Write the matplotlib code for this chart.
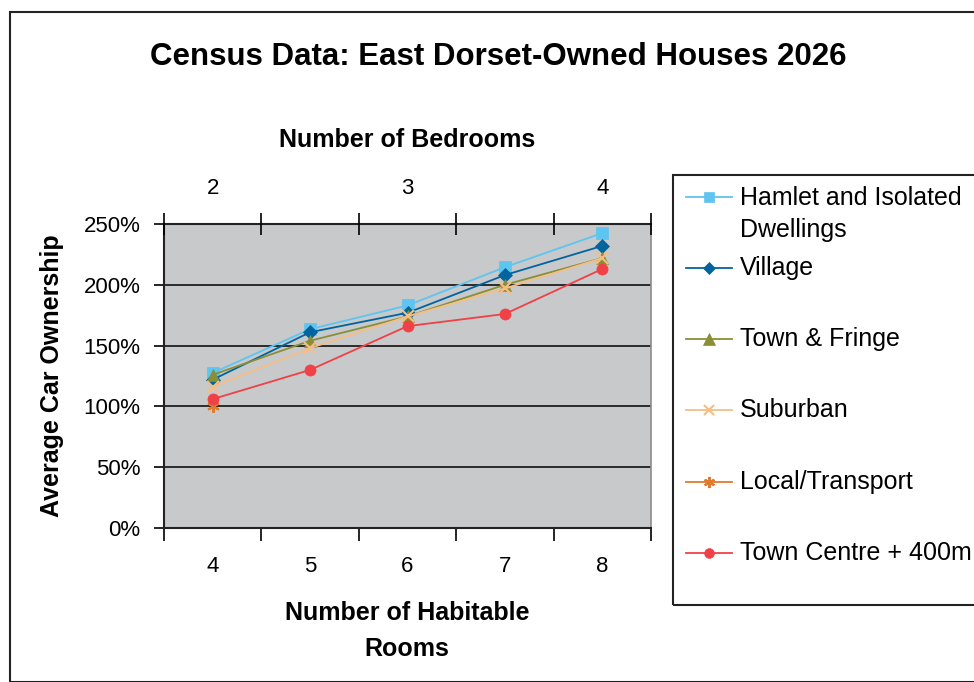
import matplotlib
matplotlib.use("Agg")
import matplotlib.pyplot as plt
import numpy as np
from matplotlib.lines import Line2D
from matplotlib.patches import Rectangle

plt.rcParams['font.family'] = ['Liberation Sans', 'DejaVu Sans']

rooms = ['4', '5', '6', '7', '8']
bedrooms = ['2', '3', '4']

hamlet = [127.5, 163.5, 183, 214.5, 242.5]
village = [122, 161, 177, 208, 232]
town_fringe = [126, 154, 174, 200, 222]
suburban = [116, 148, 174, 197, 222]
local_transport = [100, np.nan, np.nan, np.nan, np.nan]
town_centre = [106, 130, 166, 176, 213]

series = [
    ('Hamlet and Isolated\nDwellings', hamlet, '#5EC4F0', 's', 8),
    ('Village', village, '#00649F', 'D', 7),
    ('Town & Fringe', town_fringe, '#8A8F35', '^', 9),
    ('Suburban', suburban, '#F6BE84', 'x', 8),
    ('Local/Transport', local_transport, '#E27A2E', (6, 2, 0), 9),
    ('Town Centre + 400m', town_centre, '#EF4146', 'o', 8),
]

fig = plt.figure(figsize=(9.74, 6.82), dpi=100)

# outer chart border
fig.patches.append(Rectangle((10/974, 0), 1.0, 1 - 12/682, transform=fig.transFigure,
                             fill=False, edgecolor='#222222', linewidth=1.5))

ax = fig.add_axes([164/974, 1 - 528/682, 487/974, 304/682])
ax.set_facecolor('#C8C9CB')

x = np.arange(len(rooms))
for name, vals, col, mk, ms in series:
    ax.plot(x, vals, color=col, marker=mk, markersize=ms, linewidth=1.3,
            markeredgecolor=col, markeredgewidth=1.5 if mk in ('x', (6, 2, 0)) else 0.5)

ax.set_xlim(-0.5, 4.5)
ax.set_ylim(0, 250)
ax.set_yticks(np.arange(0, 251, 50))
ax.set_yticklabels([f'{v}%' for v in range(0, 251, 50)], fontsize=16)
ax.yaxis.grid(True, color='#111111', linewidth=1.2)
ax.set_axisbelow(True)
ax.tick_params(axis='y', direction='out', length=7, width=1.2, pad=10)

ax.set_xticks(np.arange(-0.5, 4.6, 1))
ax.set_xticklabels([])
ax.set_xticks(x, minor=True)
ax.set_xticklabels(rooms, minor=True, fontsize=16)
ax.tick_params(axis='x', which='major', direction='out', length=9, width=1.2)
ax.tick_params(axis='x', which='minor', length=0, pad=20)

for s in ['left', 'top', 'bottom']:
    ax.spines[s].set_color('#222222')
    ax.spines[s].set_linewidth(1.5)
ax.spines['right'].set_color('#8C8C8C')
ax.spines['right'].set_linewidth(1.2)

top = ax.twiny()
top.set_xlim(ax.get_xlim())
top.set_xticks(np.arange(-0.5, 4.6, 1))
top.set_xticklabels([])
top.set_xticks([0, 2, 4], minor=True)
top.set_xticklabels(bedrooms, minor=True, fontsize=16)
top.tick_params(axis='x', which='major', direction='inout', length=16, width=1.2)
top.tick_params(axis='x', which='minor', length=0, pad=18)
for s in top.spines.values():
    s.set_visible(False)

fig.text(498/974, 1 - 57/682, 'Census Data: East Dorset-Owned Houses 2026',
         ha='center', va='center', fontsize=22.5, fontweight='bold')
fig.text(407/974, 1 - 140/682, 'Number of Bedrooms', ha='center', va='center',
         fontsize=18, fontweight='bold')
fig.text(407/974, 1 - 631/682, 'Number of Habitable\nRooms', ha='center', va='center',
         fontsize=18, fontweight='bold', linespacing=1.65)
fig.text(52/974, 1 - 376/682, 'Average Car Ownership', ha='center', va='center',
         rotation=90, fontsize=18, fontweight='bold')

# legend box
fig.patches.append(Rectangle((673/974, 1 - 605/682), 1.0, 430/682, transform=fig.transFigure,
                             fill=False, edgecolor='#222222', linewidth=1.5))
legend_y = [197, 268, 339, 410, 482, 553]
for (name, vals, col, mk, ms), yy in zip(series, legend_y):
    yf = 1 - yy/682
    fig.add_artist(Line2D([686/974, 732/974], [yf, yf], transform=fig.transFigure,
                          color=col, linewidth=1.3))
    fig.add_artist(Line2D([709/974], [yf], transform=fig.transFigure, color=col,
                          marker=mk, markersize=ms - 1, markeredgecolor=col,
                          markeredgewidth=1.5 if mk in ('x', (6, 2, 0)) else 0.5))
    if '\n' in name:
        fig.text(740/974, yf + 11/682, name, ha='left', va='top', fontsize=18, linespacing=1.4)
    else:
        fig.text(740/974, yf, name, ha='left', va='center', fontsize=18)

fig.savefig('out.png', dpi=100)
